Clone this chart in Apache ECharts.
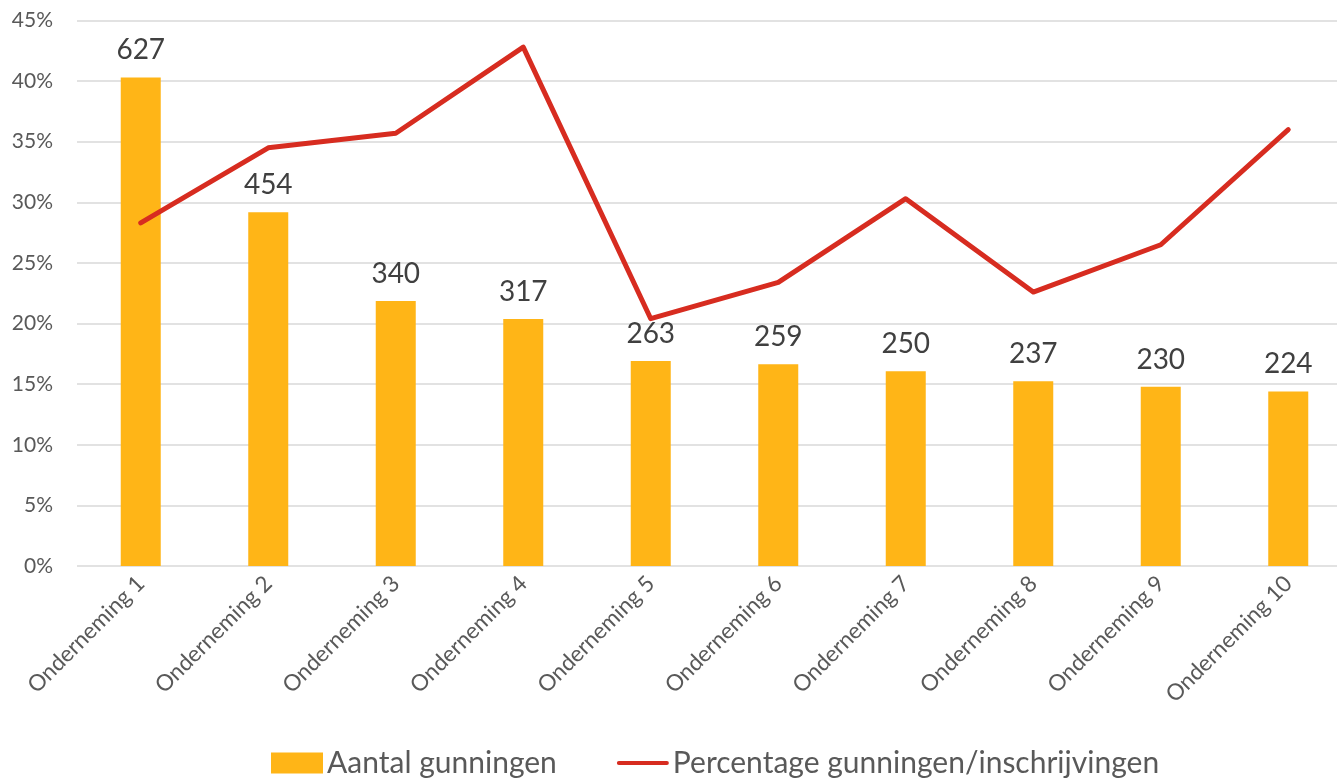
<!DOCTYPE html>
<html><head><meta charset="utf-8">
<script src="https://cdn.jsdelivr.net/npm/echarts@6/dist/echarts.min.js"></script>
<style>html,body{margin:0;padding:0;background:#fff;overflow:hidden;width:1337px;height:779px}#c{width:1352px;height:779px}</style>
</head><body><div id="c"></div>
<script>
const categories = ['Onderneming 1','Onderneming 2','Onderneming 3','Onderneming 4','Onderneming 5','Onderneming 6','Onderneming 7','Onderneming 8','Onderneming 9','Onderneming 10'];
const aantalGunningen = [627, 454, 340, 317, 263, 259, 250, 237, 230, 224];
const percentage = [0.283, 0.345, 0.357, 0.428, 0.204, 0.234, 0.303, 0.226, 0.265, 0.360];
const seriesNames = ['Aantal gunningen', 'Percentage gunningen/inschrijvingen'];

const FONT = 'Lato, "Open Sans", sans-serif';
const chart = echarts.init(document.getElementById('c'), null, {renderer:'canvas'});
chart.setOption({
  animation: false,
  textStyle: {fontFamily: FONT},
  grid: {left: 77, top: 20.5, right: 0, bottom: 213, containLabel: false},
  legend: {
    top: 743, left: 266,
    itemGap: 60, itemWidth: 52, itemHeight: 21,
    textStyle: {fontSize: 30, color: '#595959', fontFamily: FONT, padding: [0,0,0,-1]},
    data: [
      {name: seriesNames[0], icon: 'rect'},
      {name: seriesNames[1], icon: 'path://M2,0 L50,0 A2,2 0 0 1 50,4 L2,4 A2,2 0 0 1 2,0 Z'}
    ]
  },
  xAxis: {
    type: 'category', data: categories,
    axisLine: {show: false}, axisTick: {show: false},
    axisLabel: {rotate: 45, fontSize: 22.5, color: '#595959', margin: 14, interval: 0}
  },
  yAxis: [
    {type: 'value', min: 0, max: 0.45, interval: 0.05,
     axisLabel: {formatter: v => Math.round(v*100) + '%', fontSize: 21, color: '#595959', margin: 24},
     splitLine: {lineStyle: {color: '#d9d9d9', width: 1.5}},
     axisLine: {show: false}, axisTick: {show: false}},
    {type: 'value', min: 0, max: 700, show: false, splitLine: {show: false}}
  ],
  series: [
    {name: seriesNames[0], type: 'bar', yAxisIndex: 1, data: aantalGunningen, barWidth: 40,
     itemStyle: {color: '#FFB517'},
     label: {show: true, position: 'top', distance: 13, fontSize: 28, color: '#404040', fontFamily: FONT}},
    {name: seriesNames[1], type: 'line', yAxisIndex: 0, data: percentage,
     symbol: 'none', lineStyle: {color: '#D72C20', width: 5, cap: 'round', join: 'round'},
     itemStyle: {color: '#D72C20'}}
  ]
});
</script></body></html>
